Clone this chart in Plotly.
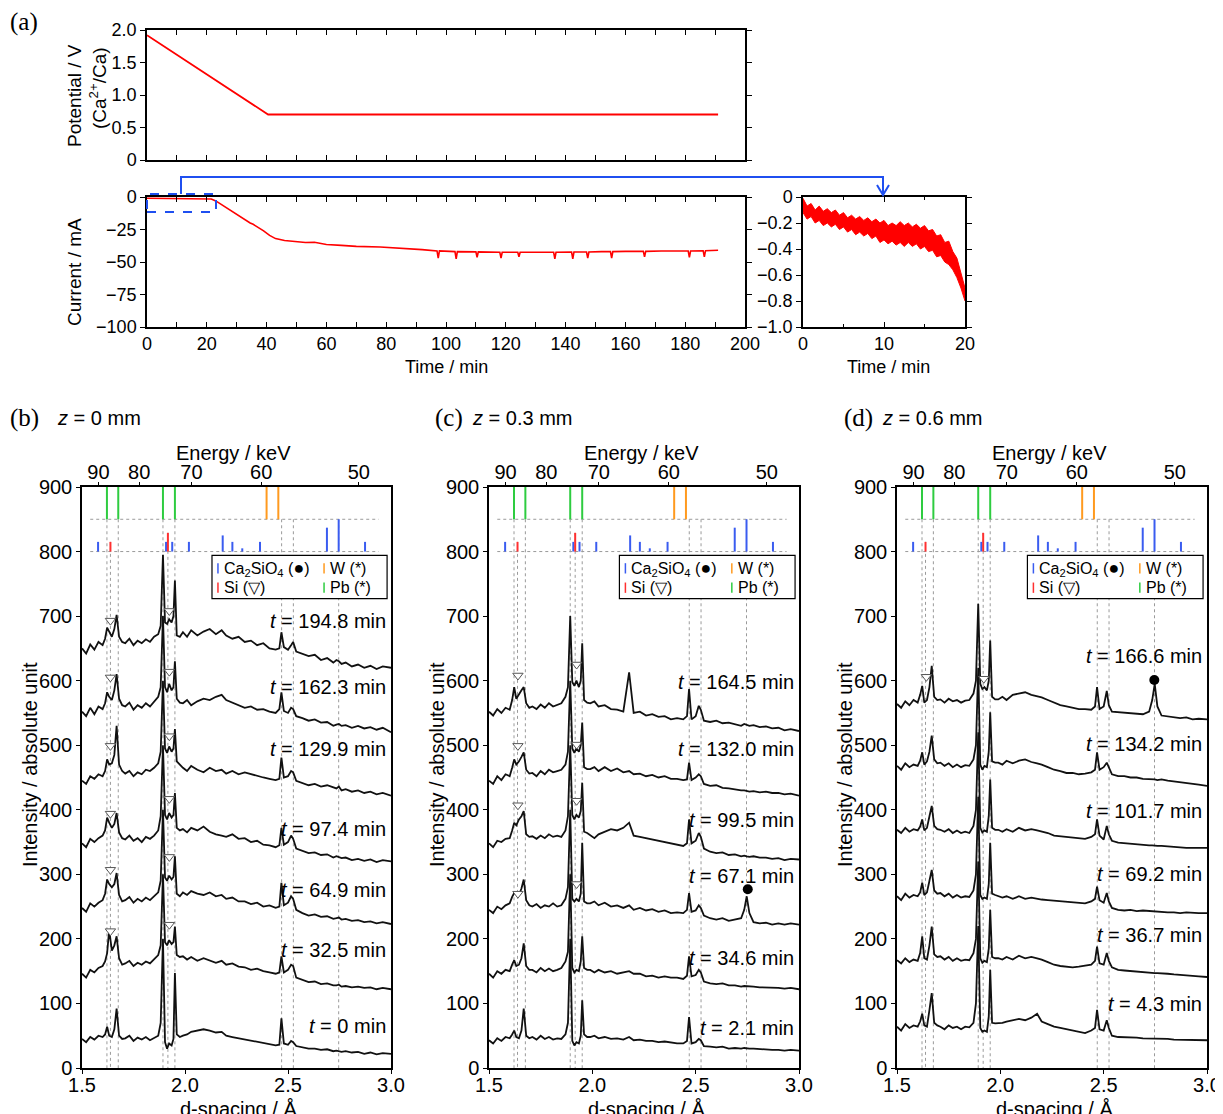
import plotly.graph_objects as go

# ==============================================================================
# CANVAS (the page puts the figure 8 px in from the top-left corner)
# ==============================================================================
W, H = 1223, 1114
OFF = 8


def px(x):
    return (x - OFF) / W


def py(y):
    return 1 - (y - OFF) / H


SANS = "Liberation Sans, Arial, sans-serif"
SERIF = "Liberation Serif, Times New Roman, serif"
RED = "#ff0000"
BLUE = "#1f4ff0"

# ==============================================================================
# DATA (a)
# ==============================================================================
POT_T = [0, 40.5, 191]
POT_V = [1.92, 0.70, 0.70]

CUR_T = [0, 10, 20, 21.5, 23, 25, 27, 29, 31, 33, 34.5, 35.5, 37, 39, 41, 43, 46, 50, 53, 56,
         60, 65, 70, 78, 86, 92,
         97, 97.4, 97.8, 103, 103.4, 103.8, 110, 110.4, 110.8, 118, 118.4, 118.8,
         124, 124.4, 124.8, 130, 136, 136.4, 136.8, 142, 142.4, 142.8, 147, 147.4, 147.8,
         152, 155, 155.4, 155.8, 160, 166, 166.4, 166.8, 172, 181, 181.4, 181.8,
         186, 186.4, 186.8, 191]
CUR_I = [-1, -1, -1, -1.5, -3, -6, -9, -12, -15, -17.5, -20, -21, -23, -26, -29.5, -32, -33.5, -34.5, -35, -34.8,
         -36.5, -37.2, -38, -38.5, -39.5, -40.5,
         -41.5, -47, -41.5, -42, -47.5, -42, -42.2, -46.5, -42.2, -42.5, -47, -42.5,
         -42.5, -46, -42.5, -42.5, -42.5, -47.5, -42.5, -42.3, -47.5, -42.3, -42.3, -47, -42.3,
         -42, -42, -47, -42, -41.8, -41.8, -46, -41.8, -41.5, -41.5, -46.5, -41.5,
         -41.3, -46, -41.3, -41]

INS_T = [0, 0.5, 1, 1.5, 2, 2.5, 3, 3.5, 4, 4.5, 5, 5.5, 6, 6.5, 7, 7.5, 8, 8.5, 9, 9.5, 10,
         10.5, 11, 11.5, 12, 12.5, 13, 13.5, 14, 14.5, 15, 15.5, 16, 16.5, 17, 17.5, 18, 18.5, 19, 19.5, 20]
INS_HI = [-0.01, -0.07, -0.05, -0.10, -0.07, -0.11, -0.09, -0.12, -0.10, -0.14, -0.12, -0.16, -0.14,
          -0.17, -0.15, -0.18, -0.16, -0.19, -0.17, -0.20, -0.18, -0.22, -0.20, -0.22, -0.19, -0.22,
          -0.20, -0.23, -0.21, -0.24, -0.22, -0.26, -0.25, -0.30, -0.29, -0.35, -0.34, -0.42, -0.47,
          -0.58, -0.70]
INS_LO = [-0.12, -0.17, -0.15, -0.20, -0.18, -0.22, -0.20, -0.23, -0.21, -0.25, -0.23, -0.27, -0.25,
          -0.29, -0.27, -0.30, -0.28, -0.32, -0.30, -0.35, -0.33, -0.36, -0.34, -0.37, -0.35, -0.38,
          -0.35, -0.38, -0.36, -0.40, -0.38, -0.42, -0.41, -0.46, -0.45, -0.50, -0.52, -0.56, -0.62,
          -0.70, -0.80]

# ==============================================================================
# DATA (b)-(d): d-spacing grid and intensities
# ==============================================================================
D = [1.50, 1.52, 1.54, 1.56, 1.58, 1.60,
     1.612, 1.622, 1.632, 1.645, 1.657, 1.668, 1.68, 1.695,
     1.71, 1.73, 1.75, 1.77, 1.79, 1.81, 1.83, 1.85, 1.87,
     1.882, 1.893, 1.903, 1.913, 1.923, 1.935, 1.944, 1.951, 1.96, 1.975,
     1.99, 2.01, 2.03, 2.06, 2.09, 2.12, 2.15, 2.178, 2.20, 2.23, 2.26, 2.29, 2.32, 2.35, 2.38, 2.41, 2.44,
     2.458, 2.468, 2.48, 2.50, 2.515, 2.525, 2.54,
     2.57, 2.60, 2.63, 2.66, 2.69, 2.72, 2.735, 2.747, 2.76, 2.78, 2.81, 2.84, 2.87, 2.90, 2.93, 2.96, 3.00]

B_1948 = [650, 642, 656, 648, 660, 655,
          665, 682, 676, 668, 680, 702, 668, 660,
          658, 665, 655, 662, 658, 664, 660, 668, 672,
          685, 795, 690, 688, 695, 690, 700, 755, 670, 668,
          675, 668, 678, 670, 676, 680, 672, 678, 670, 665, 668, 660, 662, 655, 658, 650, 648,
          650, 675, 652, 648, 655, 660, 645,
          642, 638, 640, 632, 635, 628, 632, 630, 626, 628, 622, 625, 620, 623, 618, 622, 620]
B_1623 = [552, 545, 558, 548, 560, 556,
          565, 582, 575, 570, 585, 610, 572, 562,
          560, 566, 555, 562, 558, 565, 560, 568, 575,
          590, 700, 590, 582, 595, 585, 590, 630, 572, 566,
          565, 570, 562, 568, 572, 570, 575, 578, 570, 566, 562, 558, 560, 555, 556, 552, 550,
          556, 582, 553, 550, 558, 556, 545,
          542, 538, 540, 535, 536, 530, 532, 533, 530, 531, 527, 530, 526, 528, 524, 527, 520]
B_1299 = [445, 440, 452, 448, 455, 452,
          460, 478, 470, 472, 485, 530, 470, 460,
          456, 460, 452, 458, 455, 462, 460, 465, 472,
          490, 600, 495, 488, 498, 490, 495, 525, 475, 470,
          465, 460, 468, 462, 458, 465, 460, 462, 456, 460, 455, 458, 455, 452, 450, 448, 446,
          448, 481, 450, 452, 460, 458, 445,
          442, 438, 440, 436, 438, 434, 433, 436, 430, 432, 428, 430, 426, 428, 424, 426, 422]
B_974 = [348, 342, 355, 350, 356, 360,
         368, 388, 380, 372, 378, 395, 365, 356,
         354, 360, 352, 356, 350, 358, 355, 360, 368,
         390, 500, 392, 385, 395, 388, 392, 426, 372, 368,
         370, 365, 372, 368, 374, 366, 362, 360, 358, 362, 355, 356, 350, 352, 346, 345, 342,
         345, 372, 346, 350, 360, 355, 340,
         336, 333, 334, 330, 331, 326, 328, 327, 325, 326, 322, 324, 321, 323, 319, 322, 320]
B_649 = [248, 242, 255, 250, 256, 260,
         270, 292, 285, 280, 285, 302, 268, 258,
         260, 265, 256, 262, 258, 264, 260, 266, 272,
         290, 400, 295, 290, 298, 292, 296, 328, 270, 266,
         272, 268, 274, 270, 268, 272, 266, 268, 262, 264, 258, 258, 254, 256, 250, 252, 248,
         250, 287, 252, 256, 266, 262, 245,
         240, 236, 238, 234, 235, 231, 232, 233, 230, 231, 228, 229, 226, 227, 224, 226, 223]
B_325 = [146, 140, 152, 148, 155, 158,
         165, 178, 214, 182, 190, 204, 170, 160,
         162, 166, 158, 163, 160, 165, 162, 168, 175,
         190, 300, 195, 190, 198, 192, 195, 219, 175, 172,
         173, 168, 172, 166, 170, 166, 163, 166, 160, 162, 157, 156, 152, 154, 150, 148, 146,
         148, 173, 148, 152, 160, 158, 140,
         136, 133, 134, 130, 131, 128, 128, 129, 126, 127, 125, 126, 124, 125, 122, 124, 122]
B_0 = [45, 40, 48, 44, 50, 48,
       52, 64, 50, 48, 60, 92, 50, 45,
       46, 50, 42, 47, 44, 48, 43, 46, 50,
       70, 200, 40, 30, 38, 35, 45, 147, 52, 48,
       50, 52, 56, 58, 60, 58, 55, 56, 50, 48, 46, 44, 42, 40, 38, 36, 35,
       36, 77, 38, 36, 42, 40, 34,
       32, 30, 30, 28, 29, 26, 27, 26, 25, 26, 24, 25, 22, 24, 21, 23, 22]

C_1645 = [552, 546, 556, 550, 558, 555,
          570, 590, 572, 580, 585, 590, 565, 558,
          560, 556, 563, 558, 565, 560, 562, 565, 575,
          590, 700, 598, 592, 600, 590, 600, 658, 570, 566,
          565, 568, 560, 562, 556, 555, 552, 613, 550, 552, 546, 548, 544, 545, 540, 542, 540,
          545, 587, 540, 545, 561, 555, 538,
          536, 538, 534, 535, 532, 530, 533, 531, 530, 531, 528, 529, 526, 527, 523, 525, 522]
C_1320 = [445, 440, 452, 446, 455, 452,
          465, 478, 470, 475, 482, 489, 462, 456,
          457, 452, 460, 455, 462, 458, 460, 462, 470,
          490, 600, 495, 488, 495, 490, 500, 535, 466, 463,
          463, 466, 460, 466, 460, 464, 458, 460, 455, 456, 452, 454, 450, 452, 448, 448, 446,
          447, 473, 446, 450, 455, 452, 440,
          437, 438, 434, 433, 431, 430, 430, 429, 428, 429, 427, 428, 426, 426, 424, 425, 422]
C_995 = [348, 342, 352, 350, 355, 356,
         368, 380, 376, 385, 390, 398, 362, 358,
         359, 355, 360, 356, 362, 358, 360, 358, 368,
         390, 500, 392, 385, 392, 388, 398, 442, 366, 364,
         360, 356, 362, 366, 370, 368, 372, 380, 360, 358, 356, 354, 352, 350, 348, 345, 344,
         348, 385, 348, 352, 364, 358, 340,
         335, 333, 334, 330, 331, 328, 329, 328, 327, 328, 326, 326, 324, 325, 322, 324, 323]
C_671 = [245, 240, 250, 246, 252, 255,
         265, 271, 272, 268, 278, 292, 260, 252,
         250, 254, 248, 252, 250, 255, 250, 252, 262,
         280, 400, 262, 258, 262, 258, 270, 349, 258, 255,
         255, 258, 252, 256, 250, 252, 248, 252, 245, 248, 244, 246, 242, 244, 240, 241, 240,
         245, 271, 242, 244, 252, 248, 236,
         232, 230, 232, 228, 230, 232, 245, 266, 240, 226, 224, 225, 222, 224, 222, 224, 222]
C_346 = [146, 140, 150, 146, 152, 150,
         160, 167, 158, 160, 170, 193, 158, 152,
         152, 148, 155, 150, 154, 150, 152, 155, 165,
         180, 300, 155, 148, 152, 150, 165, 204, 155, 152,
         152, 148, 152, 148, 150, 146, 148, 150, 146, 146, 142, 143, 140, 142, 140, 140, 138,
         143, 173, 142, 144, 152, 148, 134,
         131, 130, 131, 128, 128, 126, 127, 127, 126, 126, 125, 125, 124, 124, 123, 124, 122]
C_21 = [43, 38, 46, 42, 48, 46,
        52, 58, 48, 46, 58, 92, 50, 46,
        48, 44, 50, 45, 48, 44, 46, 45, 52,
        70, 200, 42, 35, 40, 38, 50, 105, 52, 48,
        48, 50, 46, 48, 45, 46, 44, 48, 43, 44, 42, 42, 40, 41, 39, 38, 38,
        42, 79, 38, 40, 45, 43, 34,
        33, 32, 33, 30, 31, 30, 31, 30, 30, 30, 29, 29, 28, 28, 27, 28, 27]

D_1666 = [564, 558, 568, 562, 570, 566,
          578, 592, 566, 570, 590, 623, 575, 570,
          571, 566, 572, 568, 570, 566, 569, 570, 580,
          600, 719, 595, 587, 590, 585, 600, 662, 575, 571,
          571, 575, 570, 578, 580, 582, 578, 576, 574, 570, 566, 562, 560, 558, 556, 556, 555,
          560, 590, 556, 560, 584, 562, 552,
          551, 550, 549, 548, 548, 552, 570, 595, 560, 546, 545, 544, 542, 543, 540, 541, 540]
D_1342 = [468, 462, 472, 466, 470, 468,
          476, 489, 470, 475, 490, 515, 478, 472,
          473, 468, 472, 466, 470, 466, 469, 468, 478,
          500, 620, 470, 462, 468, 466, 490, 551, 475, 473,
          473, 470, 476, 472, 476, 478, 474, 472, 470, 466, 462, 460, 457, 457, 455, 456, 458,
          462, 489, 462, 466, 473, 466, 455,
          452, 452, 450, 450, 448, 448, 447, 447, 446, 447, 445, 444, 442, 441, 440, 439, 437]
D_1017 = [369, 364, 372, 366, 370, 368,
          374, 385, 368, 372, 390, 406, 375, 370,
          369, 366, 370, 364, 368, 364, 366, 364, 375,
          400, 520, 372, 365, 368, 366, 390, 447, 372, 369,
          369, 366, 370, 366, 372, 368, 370, 368, 366, 364, 360, 359, 359, 357, 356, 355, 358,
          362, 385, 360, 354, 375, 362, 352,
          349, 348, 347, 346, 346, 345, 345, 344, 344, 344, 343, 342, 342, 341, 341, 341, 341]
D_692 = [266, 260, 270, 264, 268, 266,
         272, 287, 268, 272, 290, 307, 275, 270,
         271, 266, 270, 264, 268, 264, 266, 265, 275,
         300, 420, 268, 262, 264, 262, 285, 349, 270, 268,
         266, 264, 266, 262, 266, 262, 264, 262, 261, 260, 259, 258, 257, 256, 255, 255, 258,
         262, 281, 260, 256, 271, 258, 248,
         245, 244, 245, 243, 244, 243, 243, 242, 242, 242, 241, 241, 240, 241, 240, 240, 240]
D_367 = [167, 162, 170, 164, 168, 166,
         178, 204, 170, 168, 190, 219, 176, 172,
         173, 168, 172, 166, 170, 166, 168, 167, 178,
         200, 320, 170, 163, 166, 164, 185, 245, 172, 170,
         170, 168, 172, 168, 174, 170, 172, 170, 168, 164, 160, 158, 157, 156, 157, 158, 160,
         166, 188, 162, 160, 178, 166, 156,
         152, 151, 150, 150, 149, 148, 147, 147, 147, 147, 146, 145, 144, 144, 142, 142, 141]
D_43 = [64, 58, 68, 62, 66, 64,
        72, 84, 66, 64, 90, 116, 70, 66,
        64, 60, 66, 62, 64, 60, 64, 63, 70,
        100, 220, 62, 56, 58, 56, 80, 152, 70, 69,
        69, 70, 72, 74, 76, 74, 78, 84, 72, 68, 64, 62, 60, 58, 56, 54, 58,
        62, 90, 60, 58, 74, 62, 50,
        48, 48, 47, 47, 46, 46, 46, 46, 45, 45, 45, 44, 44, 44, 43, 43, 43]

B_LABELS = ["194.8", "162.3", "129.9", "97.4", "64.9", "32.5", "0"]
C_LABELS = ["164.5", "132.0", "99.5", "67.1", "34.6", "2.1"]
D_LABELS = ["166.6", "134.2", "101.7", "69.2", "36.7", "4.3"]
B_LABEL_Y = [692, 590, 494, 370, 276, 183, 65]
C_LABEL_Y = [598, 494, 384, 298, 171, 62]
D_LABEL_Y = [638, 502, 398, 300, 206, 99]

# Si markers (open triangles) and Ca2SiO4 markers (dots)
B_TRI_D = [1.638, 1.924] * 6
B_TRI_V = [693, 708, 605, 614, 499, 514, 394, 417, 307, 327, 212, 222]
C_TRI_D = [1.640, 1.924] * 4
C_TRI_V = [608, 625, 499, 501, 407, 414, 270, 285]
D_TRI_D = [1.642, 1.920]
D_TRI_V = [606, 603]
C_DOT_D, C_DOT_V = [2.752], [277]
D_DOT_D, D_DOT_V = [2.745], [601]

# reference patterns
PB_D = [1.621, 1.676, 1.893, 1.951]
W_D = [2.396, 2.453]
CASIO_D = [1.578, 1.908, 1.938, 2.019, 2.183, 2.230, 2.278, 2.364, 2.689, 2.746, 2.874]
CASIO_H = [815, 815, 815, 815, 825, 815, 805, 815, 837, 850, 815]
SI_D = [1.638, 1.917]
SI_H = [815, 829]
GUIDE_D = [1.621, 1.638, 1.676, 1.893, 1.917, 1.951, 2.469, 2.526, 2.746]
GUIDE_TOP = [850, 815, 850, 850, 829, 850, 850, 850, 850]

E_CONST = 142.2  # keV * Å
ENERGY_TICKS = [90, 80, 70, 60, 50]

for arr in [B_1948, B_1623, B_1299, B_974, B_649, B_325, B_0, C_1645, C_1320, C_995, C_671,
            C_346, C_21, D_1666, D_1342, D_1017, D_692, D_367, D_43]:
    assert len(arr) == len(D)
assert len(INS_T) == len(INS_HI) == len(INS_LO)
assert len(CUR_T) == len(CUR_I)


# ==============================================================================
# HELPERS
# ==============================================================================
def segs(xs, y0s, y1s):
    x, y = [], []
    for a, b, c in zip(xs, y0s, y1s):
        x += [a, a, None]
        y += [b, c, None]
    return x, y


def tick_font(size=18):
    return dict(family=SANS, size=size, color="black")


def ann(x, y, text, size=19, family=SANS, angle=0, xa="center", ya="middle", xref="paper", yref="paper"):
    return dict(x=x, y=y, text=text, showarrow=False, textangle=angle, xref=xref, yref=yref,
                xanchor=xa, yanchor=ya, font=dict(family=family, size=size, color="black"))


fig = go.Figure()
annotations = []
shapes = []

# ==============================================================================
# (a) potential / current
# ==============================================================================
fig.add_trace(go.Scatter(x=POT_T, y=POT_V, mode="lines", line=dict(color=RED, width=1.8),
                         xaxis="x", yaxis="y", showlegend=False, hoverinfo="skip"))
fig.add_trace(go.Scatter(x=CUR_T, y=CUR_I, mode="lines", line=dict(color=RED, width=1.6),
                         xaxis="x2", yaxis="y2", showlegend=False, hoverinfo="skip"))
fig.add_trace(go.Scatter(x=INS_T, y=INS_HI, mode="lines", line=dict(color=RED, width=1),
                         xaxis="x3", yaxis="y3", showlegend=False, hoverinfo="skip"))
fig.add_trace(go.Scatter(x=INS_T, y=INS_LO, mode="lines", line=dict(color=RED, width=1),
                         fill="tonexty", fillcolor=RED,
                         xaxis="x3", yaxis="y3", showlegend=False, hoverinfo="skip"))

axis_common = dict(showline=True, linecolor="black", linewidth=1.5, showgrid=False, zeroline=False,
                   tickfont=tick_font(18), tickcolor="black", mirror="ticks", automargin=False)

layout_axes = dict(
    xaxis=dict(axis_common, domain=[px(147), px(745)], anchor="y", range=[0, 200], dtick=10,
               ticks="inside", ticklen=5, showticklabels=False),
    yaxis=dict(axis_common, domain=[py(160), py(30)], anchor="x", range=[0, 2.0],
               tickvals=[0, 0.5, 1.0, 1.5, 2.0], ticktext=["0", "0.5", "1.0", "1.5", "2.0"],
               ticks="outside", ticklen=5),
    xaxis2=dict(axis_common, domain=[px(147), px(745)], anchor="y2", range=[0, 200],
                tickvals=list(range(0, 201, 20)), ticks="inside", ticklen=5,
                minor=dict(dtick=10, ticks="inside", ticklen=5, tickcolor="black")),
    yaxis2=dict(axis_common, domain=[py(327), py(197)], anchor="x2", range=[-100, 0],
                tickvals=[0, -25, -50, -75, -100], ticktext=["0", "\u221225", "\u221250", "\u221275", "\u2212100"],
                ticks="outside", ticklen=5),
    xaxis3=dict(axis_common, domain=[px(803), px(965)], anchor="y3", range=[0, 20],
                tickvals=[0, 10, 20], ticks="inside", ticklen=5,
                minor=dict(dtick=5, ticks="inside", ticklen=3, tickcolor="black")),
    yaxis3=dict(axis_common, domain=[py(327), py(197)], anchor="x3", range=[-1.0, 0],
                tickvals=[0, -0.2, -0.4, -0.6, -0.8, -1.0],
                ticktext=["0", "\u22120.2", "\u22120.4", "\u22120.6", "\u22120.8", "\u22121.0"],
                ticks="outside", ticklen=5),
)

annotations += [
    ann(px(8), py(22), "(a)", size=25, family=SERIF, xa="left"),
    ann(px(75), py(96), "Potential / V", size=19, angle=-90),
    ann(px(98), py(88), "(Ca<sup>2+</sup>/Ca)", size=19, angle=-90),
    ann(px(75), py(272), "Current / mA", size=19, angle=-90),
    ann(px(446), py(367), "Time / min", size=18),
    ann(px(888), py(367), "Time / min", size=18),
]

shapes += [
    dict(type="rect", xref="paper", yref="paper", x0=px(147), x1=px(216), y0=py(212), y1=py(194),
         line=dict(color=BLUE, width=2, dash="dash")),
    dict(type="path", xref="paper", yref="paper",
         path=f"M {px(181)},{py(194)} L {px(181)},{py(177)} L {px(883)},{py(177)} L {px(883)},{py(194)}",
         line=dict(color=BLUE, width=2)),
    dict(type="path", xref="paper", yref="paper",
         path=f"M {px(877)},{py(185)} L {px(883)},{py(195)} L {px(889)},{py(185)}",
         line=dict(color=BLUE, width=2)),
]

# ==============================================================================
# (b)-(d) XRD panels
# ==============================================================================
PANELS = [
    dict(left=82, right=391, n=4,
         traces=[B_1948, B_1623, B_1299, B_974, B_649, B_325, B_0],
         labels=B_LABELS, label_y=B_LABEL_Y, tri=(B_TRI_D, B_TRI_V), dot=([], [])),
    dict(left=489, right=799, n=6,
         traces=[C_1645, C_1320, C_995, C_671, C_346, C_21],
         labels=C_LABELS, label_y=C_LABEL_Y, tri=(C_TRI_D, C_TRI_V), dot=(C_DOT_D, C_DOT_V)),
    dict(left=897, right=1207, n=8,
         traces=[D_1666, D_1342, D_1017, D_692, D_367, D_43],
         labels=D_LABELS, label_y=D_LABEL_Y, tri=(D_TRI_D, D_TRI_V), dot=(D_DOT_D, D_DOT_V)),
]

for p in PANELS:
    n = p["n"]
    xa, ya, xe = f"x{n}", f"y{n}", f"x{n + 1}"
    left, right = p["left"], p["right"]
    kw = dict(xaxis=xa, yaxis=ya, showlegend=False, hoverinfo="skip")

    # guide lines
    gx, gy = segs(GUIDE_D, GUIDE_TOP, [0] * len(GUIDE_D))
    fig.add_trace(go.Scatter(x=gx, y=gy, mode="lines", line=dict(color="#9a9a9a", width=1, dash="dot"), **kw))
    fig.add_trace(go.Scatter(x=[1.54, 2.94, None, 1.54, 2.94], y=[850, 850, None, 800, 800], mode="lines",
                             line=dict(color="#9a9a9a", width=1, dash="dot"), **kw))

    # reference sticks
    for xs, y0, y1, col in [
        (PB_D, [850] * 4, [900] * 4, "#2ecc40"),
        (W_D, [850] * 2, [900] * 2, "#ff9a1f"),
        (CASIO_D, [800] * len(CASIO_D), CASIO_H, "#3a5cf0"),
        (SI_D, [800] * 2, SI_H, "#ff3030"),
    ]:
        sx, sy = segs(xs, y0, y1)
        fig.add_trace(go.Scatter(x=sx, y=sy, mode="lines", line=dict(color=col, width=2), **kw))

    # patterns
    for tr in p["traces"]:
        fig.add_trace(go.Scatter(x=D, y=tr, mode="lines", line=dict(color="#111111", width=1.8), **kw))

    fig.add_trace(go.Scatter(x=p["tri"][0], y=p["tri"][1], mode="markers",
                             marker=dict(symbol="triangle-down", size=9, color="white",
                                         line=dict(color="#555555", width=1)), **kw))
    if p["dot"][0]:
        fig.add_trace(go.Scatter(x=p["dot"][0], y=p["dot"][1], mode="markers",
                                 marker=dict(symbol="circle", size=10, color="black"), **kw))

    # dummy for the energy axis
    fig.add_trace(go.Scatter(x=[1.5], y=[0], mode="markers", marker=dict(opacity=0),
                             xaxis=xe, yaxis=ya, showlegend=False, hoverinfo="skip"))

    layout_axes[f"xaxis{n}"] = dict(
        showline=True, linecolor="black", linewidth=1.5, showgrid=False, zeroline=False, mirror=True,
        domain=[px(left), px(right)], anchor=ya, range=[1.5, 3.0], automargin=False,
        tickvals=[1.5, 2.0, 2.5, 3.0], ticktext=["1.5", "2.0", "2.5", "3.0"], ticklabelstandoff=-6,
        ticks="outside", ticklen=4, tickcolor="black", tickfont=tick_font(20))
    layout_axes[f"yaxis{n}"] = dict(
        showline=True, linecolor="black", linewidth=1.5, showgrid=False, zeroline=False, mirror=True,
        domain=[py(1068), py(487)], anchor=xa, range=[0, 900], dtick=100, automargin=False,
        ticks="outside", ticklen=4, tickcolor="black", tickfont=tick_font(20))
    layout_axes[f"xaxis{n + 1}"] = dict(
        overlaying=xa, side="top", anchor=ya, range=[1.5, 3.0], showgrid=False, zeroline=False,
        showline=False, automargin=False, ticklabelstandoff=-5,
        tickvals=[E_CONST / e for e in ENERGY_TICKS], ticktext=[str(e) for e in ENERGY_TICKS],
        ticks="outside", ticklen=4, tickcolor="black", tickfont=tick_font(20))

    # time labels
    for lab, yv in zip(p["labels"], p["label_y"]):
        annotations.append(ann(2.985, yv, f"<i>t</i> = {lab} min", size=20, xa="right",
                               xref=xa, yref=ya))

    # legend box
    shapes.append(dict(type="rect", xref=xa, yref=ya, x0=2.131, x1=2.981, y0=727, y1=794,
                       fillcolor="white", line=dict(color="black", width=1.2), layer="above"))
    for bx, by, col, txt in [
        (2.160, 774, "#3a5cf0", "Ca<sub>2</sub>SiO<sub>4</sub> (<span style='font-size:18px'>\u25cf</span>)"),
        (2.160, 744, "#ff3030", "Si (\u25bd)"),
        (2.675, 774, "#ff9a1f", "W (*)"),
        (2.675, 744, "#2ecc40", "Pb (*)"),
    ]:
        shapes.append(dict(type="line", xref=xa, yref=ya, x0=bx, x1=bx, y0=by - 8, y1=by + 8,
                           line=dict(color=col, width=1.5), layer="above"))
        annotations.append(ann(bx + 0.018, by, txt, size=16, xa="left", xref=xa, yref=ya))

    # titles
    cx = (left + right) / 2
    annotations += [
        ann(px(left - 52), py(765), "Intensity / absolute unit", size=20, angle=-90),
        ann(px(cx + 2), py(1096), "d-spacing / \u00c5", size=20, ya="top"),
        ann(px(cx - 3), py(453), "Energy / keV", size=20),
    ]

annotations += [
    ann(px(8), py(418), "(b)", size=25, family=SERIF, xa="left"),
    ann(px(55), py(418), "<i>z</i> = 0 mm", size=20, xa="left"),
    ann(px(433), py(418), "(c)", size=25, family=SERIF, xa="left"),
    ann(px(470), py(418), "<i>z</i> = 0.3 mm", size=20, xa="left"),
    ann(px(842), py(418), "(d)", size=25, family=SERIF, xa="left"),
    ann(px(880), py(418), "<i>z</i> = 0.6 mm", size=20, xa="left"),
]

fig.update_layout(
    width=W, height=H,
    margin=dict(l=0, r=0, t=0, b=0, autoexpand=False),
    paper_bgcolor="white", plot_bgcolor="white",
    font=dict(family=SANS, size=18, color="black"),
    showlegend=False,
    annotations=annotations,
    shapes=shapes,
    **layout_axes,
)

fig.write_html("out.html")
